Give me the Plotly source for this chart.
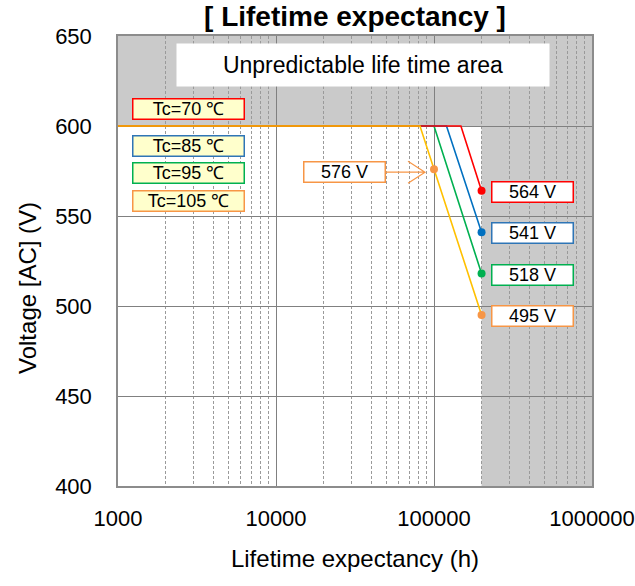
import math
import plotly.graph_objects as go

# ---------------- data ----------------
series_names = ["Tc=70 ℃", "Tc=85 ℃", "Tc=95 ℃", "Tc=105 ℃"]
start_hours = 1000
rated_voltage = 600
knee_hours = [148000, 120000, 100000, 81500]
end_hours = 200000
end_voltage = [564, 541, 518, 495]
mark_hours = 100000
mark_voltage = 576
x_ticks = [1000, 10000, 100000, 1000000]
x_tick_labels = ["1000", "10000", "100000", "1000000"]
y_ticks = [400, 450, 500, 550, 600, 650]
unpredictable_above_v = 600
unpredictable_after_h = 200000
unpredictable_text = "Unpredictable life time area"

# ---------------- styles ----------------
line_colors = ["#FF0000", "#0070C0", "#00B050", "#FFC000"]
marker_colors = ["#FF0000", "#0070C0", "#00B050", "#F79646"]
box_colors = ["#FF0000", "#2E75B6", "#00B050", "#F79646"]
FONT = "Arial, Liberation Sans, sans-serif"

W, H = 635, 586

fig = go.Figure()

# line traces (draw order so that red lies above blue/green and gold on top)
for i in [2, 1, 0, 3]:
    fig.add_trace(go.Scatter(
        x=[start_hours, knee_hours[i], end_hours],
        y=[rated_voltage, rated_voltage, end_voltage[i]],
        mode="lines", line=dict(color=line_colors[i], width=1.6),
        name=series_names[i], showlegend=False, hoverinfo="skip"))

# end point markers
for i in range(4):
    fig.add_trace(go.Scatter(
        x=[end_hours], y=[end_voltage[i]], mode="markers",
        marker=dict(color=marker_colors[i], size=8),
        showlegend=False, hoverinfo="skip"))

# 576 V marker
fig.add_trace(go.Scatter(
    x=[mark_hours], y=[mark_voltage], mode="markers",
    marker=dict(color=marker_colors[3], size=8),
    showlegend=False, hoverinfo="skip"))

# gray unpredictable areas
fig.add_shape(type="rect", xref="x", yref="y", x0=x_ticks[0], x1=x_ticks[-1],
              y0=unpredictable_above_v, y1=y_ticks[-1], fillcolor="#CACACA",
              line=dict(width=0), layer="below")
fig.add_shape(type="rect", xref="x", yref="y", x0=unpredictable_after_h, x1=x_ticks[-1],
              y0=y_ticks[0], y1=unpredictable_above_v, fillcolor="#CACACA",
              line=dict(width=0), layer="below")

# white label box
fig.add_annotation(xref="paper", yref="paper", x=0.517, y=0.935,
                   xanchor="center", yanchor="middle",
                   text=unpredictable_text, showarrow=False,
                   font=dict(size=23, color="black", family=FONT),
                   bgcolor="white", width=372, height=42, borderpad=0)

# legend-like boxes
legend_y = [0.837, 0.755, 0.695, 0.634]
for i in range(4):
    fig.add_annotation(xref="paper", yref="paper", x=0.148, y=legend_y[i],
                       xanchor="center", yanchor="middle",
                       text=series_names[i], showarrow=False,
                       font=dict(size=18, color="black", family=FONT),
                       bgcolor="#FFFFCC", bordercolor=box_colors[i], borderwidth=1.5,
                       width=110, height=19, borderpad=0)

# value labels
for i in range(4):
    fig.add_annotation(xref="x", yref="y", x=math.log10(end_hours), y=end_voltage[i],
                       xanchor="center", yanchor="middle",
                       xshift=51, yshift=-1,
                       text=f"{end_voltage[i]} V", showarrow=False,
                       font=dict(size=18, color="black", family=FONT),
                       bgcolor="white", bordercolor=box_colors[i], borderwidth=1.5,
                       width=80, height=19, borderpad=0)

fig.add_annotation(xref="x", yref="y", x=math.log10(mark_hours), y=mark_voltage,
                   xanchor="center", yanchor="middle",
                   xshift=-90, yshift=-3,
                   text=f"{mark_voltage} V", showarrow=False,
                   font=dict(size=18, color="black", family=FONT),
                   bgcolor="white", bordercolor=box_colors[3], borderwidth=1.5,
                   width=80, height=19, borderpad=0)

# open arrow pointing to the 576 V marker
fig.add_shape(type="path", xref="x", yref="y",
              xsizemode="pixel", ysizemode="pixel",
              xanchor=mark_hours, yanchor=mark_voltage,
              path="M-48,-3 L-9,-3 M-26,8 L-9,-3 L-26,-14",
              line=dict(color=box_colors[3], width=1.2))

# y axis title (placed as rotated text left of the tick labels)
fig.add_annotation(xref="paper", yref="paper", x=-0.192, y=0.44,
                   xanchor="center", yanchor="middle", textangle=-90,
                   text="Voltage [AC] (V)", showarrow=False,
                   font=dict(size=24, color="black", family=FONT))

fig.update_layout(
    width=W, height=H,
    margin=dict(l=118, r=43, t=36, b=100, autoexpand=False),
    plot_bgcolor="white", paper_bgcolor="white",
    font=dict(family=FONT, color="black"),
    title=dict(text="<b>[ Lifetime expectancy ]</b>", x=0.5, xref="paper",
               y=1 - 16 / H, yanchor="middle", xanchor="center",
               font=dict(size=28, color="black", family=FONT)),
    showlegend=False,
)

fig.update_xaxes(
    type="log", range=[3, 6], automargin=False,
    tickvals=x_ticks, ticktext=x_tick_labels,
    tickfont=dict(size=22, color="black"),
    ticks="outside", ticklen=12, tickcolor="rgba(0,0,0,0)",
    showgrid=True, gridcolor="#808080", gridwidth=1,
    minor=dict(dtick="D1", showgrid=True, gridcolor="#9A9A9A",
               griddash="3px,2px", gridwidth=1, ticks=""),
    showline=True, mirror=True, linecolor="#8C8C8C", linewidth=1.5,
    zeroline=False,
    title=dict(text="Lifetime expectancy (h)", font=dict(size=24, color="black"),
               standoff=20),
)
fig.update_yaxes(
    range=[400, 650], tickvals=y_ticks, automargin=False,
    tickfont=dict(size=22, color="black"),
    ticks="outside", ticklen=20, tickcolor="rgba(0,0,0,0)",
    showgrid=True, gridcolor="#808080", gridwidth=1,
    showline=True, mirror=True, linecolor="#8C8C8C", linewidth=1.5,
    zeroline=False,
)

fig.write_html("out.html", config={"displayModeBar": False},
               post_script="document.body.style.margin='0';")
